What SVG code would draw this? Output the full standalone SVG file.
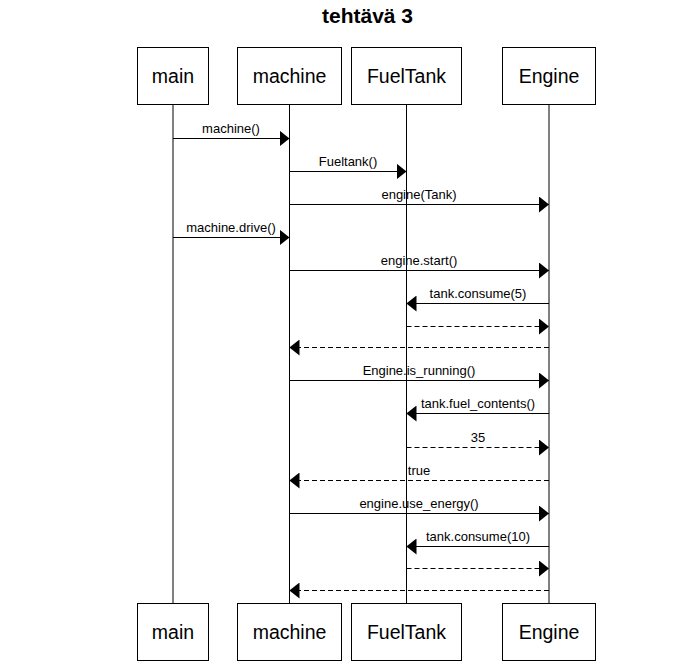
<svg xmlns="http://www.w3.org/2000/svg" width="681" height="668" viewBox="0 0 681 668">
<style>
.box{fill:#fff;stroke:#000;stroke-width:1}
.nt{font-family:"Liberation Sans",Arial,sans-serif;font-size:19.5px;text-anchor:middle;fill:#000}
.life{stroke:#000;stroke-width:1;fill:none}
.msg{stroke:#000;stroke-width:1;fill:none}
.ret{stroke:#000;stroke-width:1;fill:none;stroke-dasharray:5 3}
.lbl{font-family:"Liberation Sans",Arial,sans-serif;font-size:13px;text-anchor:middle;fill:#000}
.title{font-family:"Liberation Sans",Arial,sans-serif;font-size:21px;font-weight:bold;text-anchor:middle;fill:#000}
</style>
<defs>
<marker id="ah" viewBox="0 0 10 16" refX="10" refY="8" markerWidth="10" markerHeight="16" markerUnits="userSpaceOnUse" orient="auto">
<path d="M0,0 L10,8 L0,16 Z" fill="#000"/>
</marker>
</defs>
<rect width="681" height="668" fill="#fff"/>
<text class="title" x="367.5" y="23">tehtävä 3</text>
<g id="lifelines">
<line class="life" x1="173" y1="104.5" x2="173" y2="603.5"/>
<line class="life" x1="289.5" y1="104.5" x2="289.5" y2="603.5"/>
<line class="life" x1="406.5" y1="104.5" x2="406.5" y2="603.5"/>
<line class="life" x1="549" y1="104.5" x2="549" y2="603.5"/>
</g>
<g id="main-top"><rect class="box" x="137.5" y="47.5" width="71" height="57"/><text class="nt" x="173" y="83">main</text></g>
<g id="machine-top"><rect class="box" x="237.5" y="47.5" width="104" height="57"/><text class="nt" x="289.5" y="83">machine</text></g>
<g id="fueltank-top"><rect class="box" x="351.5" y="47.5" width="110" height="57"/><text class="nt" x="406.5" y="83">FuelTank</text></g>
<g id="engine-top"><rect class="box" x="502.5" y="47.5" width="93" height="57"/><text class="nt" x="549" y="83">Engine</text></g>
<g id="main-bottom"><rect class="box" x="137.5" y="603.5" width="71" height="57"/><text class="nt" x="173" y="639">main</text></g>
<g id="machine-bottom"><rect class="box" x="237.5" y="603.5" width="104" height="57"/><text class="nt" x="289.5" y="639">machine</text></g>
<g id="fueltank-bottom"><rect class="box" x="351.5" y="603.5" width="110" height="57"/><text class="nt" x="406.5" y="639">FuelTank</text></g>
<g id="engine-bottom"><rect class="box" x="502.5" y="603.5" width="93" height="57"/><text class="nt" x="549" y="639">Engine</text></g>
<g id="connectors">
<line class="msg" x1="173" y1="138.5" x2="289.5" y2="138.5" marker-end="url(#ah)"/>
<text class="lbl" x="231" y="133">machine()</text>
<line class="msg" x1="289.5" y1="171.5" x2="406.5" y2="171.5" marker-end="url(#ah)"/>
<text class="lbl" x="348" y="166">Fueltank()</text>
<line class="msg" x1="289.5" y1="204.5" x2="549" y2="204.5" marker-end="url(#ah)"/>
<text class="lbl" x="419" y="199">engine(Tank)</text>
<line class="msg" x1="173" y1="237.5" x2="289.5" y2="237.5" marker-end="url(#ah)"/>
<text class="lbl" x="231" y="232">machine.drive()</text>
<line class="msg" x1="289.5" y1="270.5" x2="549" y2="270.5" marker-end="url(#ah)"/>
<text class="lbl" x="419" y="265">engine.start()</text>
<line class="msg" x1="549" y1="303.5" x2="406.5" y2="303.5" marker-end="url(#ah)"/>
<text class="lbl" x="478" y="298">tank.consume(5)</text>
<line class="ret" x1="406.5" y1="326.5" x2="549" y2="326.5" marker-end="url(#ah)"/>
<line class="ret" x1="549" y1="347.5" x2="289.5" y2="347.5" marker-end="url(#ah)"/>
<line class="msg" x1="289.5" y1="380.5" x2="549" y2="380.5" marker-end="url(#ah)"/>
<text class="lbl" x="419" y="375">Engine.is_running()</text>
<line class="msg" x1="549" y1="413.5" x2="406.5" y2="413.5" marker-end="url(#ah)"/>
<text class="lbl" x="478" y="408">tank.fuel_contents()</text>
<line class="ret" x1="406.5" y1="447.5" x2="549" y2="447.5" marker-end="url(#ah)"/>
<text class="lbl" x="478" y="442">35</text>
<line class="ret" x1="549" y1="480.5" x2="289.5" y2="480.5" marker-end="url(#ah)"/>
<text class="lbl" x="419" y="475">true</text>
<line class="msg" x1="289.5" y1="513.5" x2="549" y2="513.5" marker-end="url(#ah)"/>
<text class="lbl" x="419" y="508">engine.use_energy()</text>
<line class="msg" x1="549" y1="546.5" x2="406.5" y2="546.5" marker-end="url(#ah)"/>
<text class="lbl" x="478" y="541">tank.consume(10)</text>
<line class="ret" x1="406.5" y1="568.5" x2="549" y2="568.5" marker-end="url(#ah)"/>
<line class="ret" x1="549" y1="590.5" x2="289.5" y2="590.5" marker-end="url(#ah)"/>
</g>
</svg>
